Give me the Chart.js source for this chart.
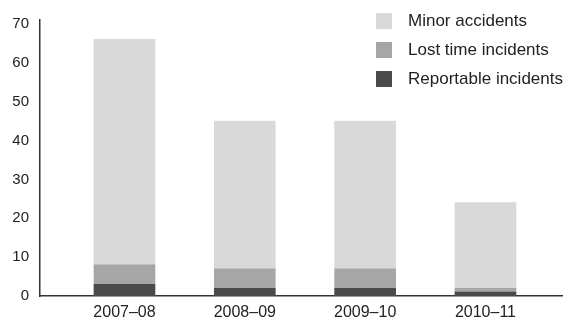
<!DOCTYPE html>
<html>
<head>
<meta charset="utf-8">
<script src="https://cdn.jsdelivr.net/npm/chart.js@4"></script>
<style>
  body { margin: 0; background: #fff; }
  #wrap { position: relative; width: 576px; height: 320px; font-family: "Liberation Sans", Arial, sans-serif; }
  #legend { position: absolute; left: 376px; top: 6px; }
  .item { display: flex; align-items: center; height: 29px; font-size: 17px; color: #222; }
  .box { width: 16px; height: 16px; margin-right: 16px; }
</style>
</head>
<body>
<div id="wrap">
  <canvas id="myChart" width="576" height="320"></canvas>
  <div id="legend"></div>
</div>
<script>
var categories = ['2007–08', '2008–09', '2009–10', '2010–11'];
var reportable = [3, 2, 2, 1];
var lostTime = [5, 5, 5, 1];
var minor = [58, 38, 38, 22];
var yTicks = [0, 10, 20, 30, 40, 50, 60, 70];

function points(values) {
    return values.map(function(v, i) { return {x: i, y: v}; });
}

var datasets = [
    { label: 'Reportable incidents', data: points(reportable), backgroundColor: '#4a4a4a' },
    { label: 'Lost time incidents', data: points(lostTime), backgroundColor: '#a6a6a6' },
    { label: 'Minor accidents', data: points(minor), backgroundColor: '#d9d9d9' }
];

var ctx = document.getElementById('myChart').getContext('2d');
var chart = new Chart(ctx, {
    type: 'bar',
    data: { datasets: datasets },
    options: {
        responsive: false,
        animation: false,
        layout: { padding: { top: 17, right: 14, left: 0, bottom: 0 } },
        datasets: { bar: { barThickness: 61 } },
        plugins: { legend: { display: false }, tooltip: { enabled: false } },
        font: { family: '"Liberation Sans", Arial, sans-serif' },
        scales: {
            x: {
                type: 'linear',
                stacked: true,
                offset: false,
                min: -0.702,
                max: 3.636,
                grid: { display: false, drawTicks: false, offset: false },
                border: { display: true, color: '#333', width: 1.5 },
                afterBuildTicks: function(scale) {
                    scale.ticks = categories.map(function(c, i) { return {value: i}; });
                },
                afterFit: function(scale) { scale.height = 24; },
                ticks: {
                    autoSkip: false,
                    maxRotation: 0,
                    padding: 7,
                    color: '#222',
                    font: { size: 16, family: '"Liberation Sans", Arial, sans-serif' },
                    callback: function(value) { return categories[value]; }
                }
            },
            y: {
                stacked: true,
                min: 0,
                max: 71,
                grid: { display: false, drawTicks: false },
                border: { display: true, color: '#333', width: 1.5 },
                afterBuildTicks: function(scale) {
                    scale.ticks = yTicks.map(function(v) { return {value: v}; });
                },
                afterFit: function(scale) { scale.width = 40; },
                ticks: {
                    padding: 11,
                    color: '#222',
                    font: { size: 15, family: '"Liberation Sans", Arial, sans-serif' }
                }
            }
        }
    }
});

// legend, top entry first
var legend = document.getElementById('legend');
datasets.slice().reverse().forEach(function(ds) {
    var row = document.createElement('div');
    row.className = 'item';
    row.innerHTML = '<div class="box" style="background:' + ds.backgroundColor + '"></div>' + ds.label;
    legend.appendChild(row);
});
</script>
</body>
</html>
